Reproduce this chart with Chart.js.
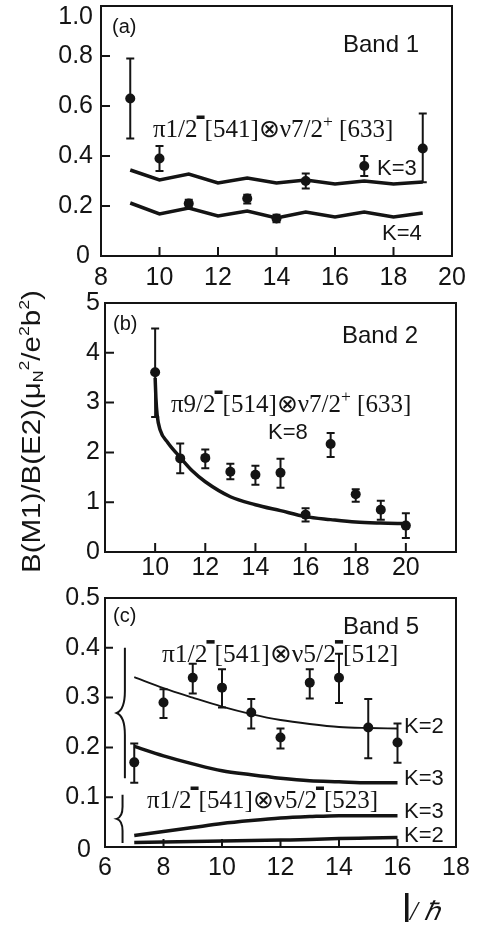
<!DOCTYPE html>
<html>
<head>
<meta charset="utf-8">
<script src="https://cdn.jsdelivr.net/npm/chart.js"></script>
<style>
  body { margin: 0; background: #fff; width: 486px; height: 927px; position: relative; overflow: hidden; }
  canvas { position: absolute; left: 0; }
</style>
</head>
<body>
<canvas id="chartA" width="486" height="290" style="top:0px"></canvas>
<canvas id="chartB" width="486" height="310" style="top:280px"></canvas>
<canvas id="chartC" width="486" height="352" style="top:575px"></canvas>
<script>
// ---- panel (a), band 1
const spinA = [9, 10, 11, 13, 14, 15, 17, 19]
const ratioA = [0.63, 0.39, 0.21, 0.23, 0.15, 0.30, 0.36, 0.43]
const errLoA = [0.47, 0.34, 0.195, 0.21, 0.135, 0.27, 0.32, 0.295]
const errHiA = [0.79, 0.44, 0.225, 0.245, 0.165, 0.33, 0.40, 0.57]
const calcSpinA = [9, 10, 11, 12, 13, 14, 15, 16, 17, 18, 19]
const calcK3A = [0.344, 0.304, 0.328, 0.292, 0.312, 0.292, 0.304, 0.288, 0.300, 0.288, 0.296]
const calcK4A = [0.212, 0.168, 0.192, 0.160, 0.180, 0.152, 0.176, 0.156, 0.176, 0.156, 0.172]

// ---- panel (b), band 2
const spinB = [10, 11, 12, 13, 14, 15, 16, 17, 18, 19, 20]
const ratioB = [3.61, 1.88, 1.89, 1.61, 1.55, 1.59, 0.75, 2.17, 1.16, 0.85, 0.53]
const errLoB = [2.71, 1.58, 1.68, 1.46, 1.35, 1.29, 0.61, 1.91, 1.01, 0.65, 0.28]
const errHiB = [4.49, 2.18, 2.06, 1.77, 1.73, 1.87, 0.88, 2.39, 1.26, 1.03, 0.78]
const calcSpinB = [10, 10.03, 10.08, 10.2, 10.5, 11, 11.5, 12, 13, 14, 15, 16, 17, 18, 19, 20]
const calcK8B = [3.5, 3.1, 2.75, 2.45, 2.2, 1.9, 1.62, 1.41, 1.11, 0.95, 0.83, 0.71, 0.65, 0.60, 0.58, 0.57]

// ---- panel (c), band 5
const spinC = [7, 8, 9, 10, 11, 12, 13, 14, 15, 16]
const ratioC = [0.17, 0.29, 0.34, 0.32, 0.27, 0.22, 0.33, 0.34, 0.24, 0.21]
const errLoC = [0.129, 0.259, 0.308, 0.28, 0.238, 0.198, 0.298, 0.289, 0.178, 0.169]
const errHiC = [0.208, 0.317, 0.368, 0.357, 0.297, 0.238, 0.357, 0.388, 0.297, 0.248]
const calcSpinC = [7, 8, 9, 10, 11, 12, 13, 14, 15, 16]
const calc512K2 = [0.341, 0.319, 0.300, 0.282, 0.267, 0.255, 0.247, 0.241, 0.239, 0.238]
const calc512K3 = [0.202, 0.183, 0.167, 0.153, 0.145, 0.138, 0.133, 0.131, 0.129, 0.129]
const calc523K3 = [0.023, 0.031, 0.039, 0.047, 0.053, 0.058, 0.061, 0.063, 0.063, 0.063]
const calc523K2 = [0.009, 0.010, 0.011, 0.012, 0.013, 0.014, 0.015, 0.017, 0.018, 0.019]

const ink = '#141414'
const SANS = '"Liberation Sans", Arial, sans-serif'
const SERIF = '"Liberation Serif", "Times New Roman", serif'

function pts(xs, ys) {
  return xs.map((x, i) => ({ x: x, y: ys[i] }))
}

function measured(xs, ys) {
  return { data: pts(xs, ys), pointRadius: 5, pointBackgroundColor: ink, pointBorderWidth: 0, showLine: false }
}

function curve(xs, ys, width, smooth) {
  return {
    data: pts(xs, ys), showLine: true, pointRadius: 0, borderColor: ink, borderWidth: width,
    tension: 0, cubicInterpolationMode: smooth ? 'monotone' : 'default', borderCapStyle: 'butt'
  }
}

// box + inward tick marks
function frame(xTicks, yTicks, len) {
  return {
    id: 'frame',
    afterDatasetsDraw(chart) {
      const ctx = chart.ctx, a = chart.chartArea
      const xs = chart.scales.x, ys = chart.scales.y
      ctx.save()
      ctx.strokeStyle = ink
      ctx.lineWidth = 2
      ctx.strokeRect(a.left, a.top, a.right - a.left, a.bottom - a.top)
      ctx.beginPath()
      xTicks.forEach(v => {
        const px = xs.getPixelForValue(v)
        ctx.moveTo(px, a.bottom); ctx.lineTo(px, a.bottom - len)
      })
      yTicks.forEach(v => {
        const py = ys.getPixelForValue(v)
        ctx.moveTo(a.left, py); ctx.lineTo(a.left + len, py)
      })
      ctx.stroke()
      ctx.restore()
    }
  }
}

function errorBars(xv, lo, hi) {
  return {
    id: 'errorBars',
    afterDatasetsDraw(chart) {
      const ctx = chart.ctx, xs = chart.scales.x, ys = chart.scales.y
      ctx.save()
      ctx.strokeStyle = ink
      ctx.lineWidth = 2
      ctx.beginPath()
      xv.forEach((v, i) => {
        const px = xs.getPixelForValue(v)
        const pl = ys.getPixelForValue(lo[i]), ph = ys.getPixelForValue(hi[i])
        ctx.moveTo(px, pl); ctx.lineTo(px, ph)
        ctx.moveTo(px - 4, pl); ctx.lineTo(px + 4, pl)
        ctx.moveTo(px - 4, ph); ctx.lineTo(px + 4, ph)
      })
      ctx.stroke()
      ctx.restore()
    }
  }
}

// serif annotation with superscripts: '^-' is the heavy bar, '^+' a small plus
function richText(ctx, x, y, parts, size) {
  ctx.textAlign = 'left'
  ctx.textBaseline = 'alphabetic'
  parts.forEach(p => {
    if (p === '^-') {
      ctx.fillRect(x - 1, y - size * 0.86, size * 0.32, size * 0.14)
      x += size * 0.28
    } else if (p === '^+') {
      ctx.font = (size * 0.7) + 'px ' + SERIF
      ctx.fillText('+', x, y - size * 0.4)
      x += ctx.measureText('+').width
    } else {
      ctx.font = size + 'px ' + SERIF
      ctx.fillText(p, x, y)
      x += ctx.measureText(p).width
    }
  })
}

function sans(ctx, text, x, y, size) {
  ctx.font = size + 'px ' + SANS
  ctx.textAlign = 'left'
  ctx.textBaseline = 'alphabetic'
  ctx.fillText(text, x, y)
}

// tick label drawn by hand where the original sits off its tick
function edgeLabel(ctx, text, right, mid) {
  ctx.font = '25px ' + SANS
  ctx.textAlign = 'right'
  ctx.textBaseline = 'middle'
  ctx.fillText(text, right, mid)
}

function panelOptions(o) {
  return {
    responsive: false,
    animation: false,
    layout: { padding: { left: 0, top: o.top, right: o.right, bottom: 0 } },
    plugins: { legend: { display: false }, tooltip: { enabled: false } },
    scales: {
      x: {
        type: 'linear', min: o.xMin, max: o.xMax,
        grid: { display: false, drawTicks: false }, border: { display: false },
        ticks: { stepSize: 2, padding: o.xPad, color: ink, font: { family: SANS, size: 25 }, maxRotation: 0, autoSkip: false, callback: o.fmtX },
        afterFit(s) { s.height = o.xHeight; s.paddingLeft = 0; s.paddingRight = 0 }
      },
      y: {
        type: 'linear', min: o.yMin, max: o.yMax,
        grid: { display: false, drawTicks: false }, border: { display: false },
        ticks: { stepSize: o.yStep, padding: o.yPad, color: ink, font: { family: SANS, size: 25 }, callback: o.fmtY },
        afterFit(s) { s.width = o.yWidth; s.paddingTop = 0; s.paddingBottom = 0 }
      }
    }
  }
}

// 0 and the top label are drawn by hand in (a) and (c)
const innerOnly = top => v => (Math.abs(v) < 1e-9 || Math.abs(v - top) < 1e-9 ? '' : v.toFixed(1))

// ---------------- (a)
new Chart(document.getElementById('chartA'), {
  type: 'scatter',
  data: { datasets: [measured(spinA, ratioA), curve(calcSpinA, calcK3A, 3.5, false), curve(calcSpinA, calcK4A, 3.5, false)] },
  options: panelOptions({ top: 6, right: 34, xHeight: 34, yWidth: 101, xMin: 8, xMax: 20, yMin: 0, yMax: 1, yStep: 0.2, xPad: 7, yPad: 8, fmtX: v => v, fmtY: innerOnly(1) }),
  plugins: [frame([10, 12, 14, 16, 18], [0.2, 0.4, 0.6, 0.8], 9), errorBars(spinA, errLoA, errHiA), {
    id: 'textA',
    afterDraw(chart) {
      const ctx = chart.ctx
      ctx.save()
      ctx.fillStyle = ink
      edgeLabel(ctx, '1.0', 93, 17)
      edgeLabel(ctx, '0', 90, 256)
      sans(ctx, '(a)', 112, 33, 20)
      sans(ctx, 'Band 1', 343, 52, 24)
      sans(ctx, 'K=3', 377, 175, 22)
      sans(ctx, 'K=4', 382, 240, 22)
      richText(ctx, 153, 137, ['π1/2', '^-', '[541]⊗ν7/2', '^+', ' [633]'], 25)
      ctx.restore()
    }
  }]
})

// ---------------- (b)
new Chart(document.getElementById('chartB'), {
  type: 'scatter',
  data: { datasets: [measured(spinB, ratioB), curve(calcSpinB, calcK8B, 3.5, true)] },
  options: panelOptions({ top: 23, right: 30, xHeight: 38, yWidth: 105, xMin: 8, xMax: 22, yMin: 0, yMax: 5, yStep: 1, xPad: 1, yPad: 5,
    fmtX: v => (v === 8 || v === 22 ? '' : v), fmtY: v => v }),
  plugins: [frame([10, 12, 14, 16, 18, 20], [1, 2, 3, 4], 9), errorBars(spinB, errLoB, errHiB), {
    id: 'textB',
    afterDraw(chart) {
      const ctx = chart.ctx
      const top = 280
      ctx.save()
      ctx.fillStyle = ink
      sans(ctx, '(b)', 113, 330 - top, 20)
      sans(ctx, 'Band 2', 342, 343 - top, 24)
      sans(ctx, 'K=8', 268, 439 - top, 22)
      richText(ctx, 171, 412 - top, ['π9/2', '^-', '[514]⊗ν7/2', '^+', ' [633]'], 25)

      // rotated y title, stretched along its run like the original
      ctx.translate(40, 573 - top)
      ctx.rotate(-Math.PI / 2)
      ctx.scale(1.18, 1)
      const fs = 25
      let x = 0
      const seg = (t, size, dy) => {
        ctx.font = size + 'px ' + SANS
        ctx.fillText(t, x, dy)
        x += ctx.measureText(t).width
      }
      ctx.textAlign = 'left'
      ctx.textBaseline = 'alphabetic'
      seg('B(M1)/B(E2)(μ', fs, 0)
      seg('N', fs * 0.55, 3)
      seg('2', fs * 0.6, -fs * 0.45)
      seg('/e', fs, 0)
      seg('2', fs * 0.6, -fs * 0.45)
      seg('b', fs, 0)
      seg('2', fs * 0.6, -fs * 0.45)
      seg(')', fs, 0)
      ctx.restore()
    }
  }]
})

// ---------------- (c)
new Chart(document.getElementById('chartC'), {
  type: 'scatter',
  data: { datasets: [
    measured(spinC, ratioC),
    curve(calcSpinC, calc512K2, 1.8, true),
    curve(calcSpinC, calc512K3, 3.5, true),
    curve(calcSpinC, calc523K3, 3.5, true),
    curve(calcSpinC, calc523K2, 3.5, true)
  ] },
  options: panelOptions({ top: 23, right: 30, xHeight: 80, yWidth: 105, xMin: 6, xMax: 18, yMin: 0, yMax: 0.5, yStep: 0.1, xPad: 6, yPad: 5, fmtX: v => v, fmtY: innerOnly(-1) }),
  plugins: [frame([8, 10, 12, 14, 16], [0.1, 0.2, 0.3, 0.4], 8), errorBars(spinC, errLoC, errHiC), {
    id: 'textC',
    afterDraw(chart) {
      const ctx = chart.ctx
      const top = 575
      const ys = chart.scales.y, xs = chart.scales.x
      ctx.save()
      ctx.fillStyle = ink
      ctx.strokeStyle = ink
      edgeLabel(ctx, '0', 91, 850 - top)
      sans(ctx, '(c)', 113, 622 - top, 20)
      sans(ctx, 'Band 5', 343, 634 - top, 24)
      sans(ctx, 'K=2', 404, 733 - top, 22)
      sans(ctx, 'K=3', 404, 785 - top, 22)
      sans(ctx, 'K=3', 404, 818 - top, 22)
      sans(ctx, 'K=2', 404, 842 - top, 22)
      richText(ctx, 162, 662 - top, ['π1/2', '^-', '[541]⊗ν5/2', '^-', '[512]'], 25.5)
      richText(ctx, 147, 808 - top, ['π1/2', '^-', '[541]⊗ν5/2', '^-', '[523]'], 25)

      // braces grouping the two configurations
      const brace = (yTop, yBot, xr, xl, d) => {
        const y0 = ys.getPixelForValue(yTop), y1 = ys.getPixelForValue(yBot)
        const ym = (y0 + y1) / 2
        ctx.beginPath()
        ctx.moveTo(xr, y0)
        ctx.lineTo(xr, ym - d)
        ctx.quadraticCurveTo(xr, ym - d * 0.15, xl, ym)
        ctx.quadraticCurveTo(xr, ym + d * 0.15, xr, ym + d)
        ctx.lineTo(xr, y1)
        ctx.stroke()
      }
      ctx.lineWidth = 2
      brace(0.4, 0.138, xs.getPixelForValue(6.68), xs.getPixelForValue(6.4), 22)
      brace(0.105, 0.008, xs.getPixelForValue(6.6), xs.getPixelForValue(6.4), 12)

      // axis label I/ħ
      ctx.fillRect(405, 893 - top, 3.5, 29)
      ctx.font = 'italic 28px ' + SERIF
      ctx.textAlign = 'left'
      ctx.textBaseline = 'alphabetic'
      ctx.fillText('/', 410, 920 - top)
      ctx.font = 'italic 26px ' + SERIF
      ctx.fillText('ℏ', 424, 920 - top)
      ctx.restore()
    }
  }]
})
</script>
</body>
</html>
